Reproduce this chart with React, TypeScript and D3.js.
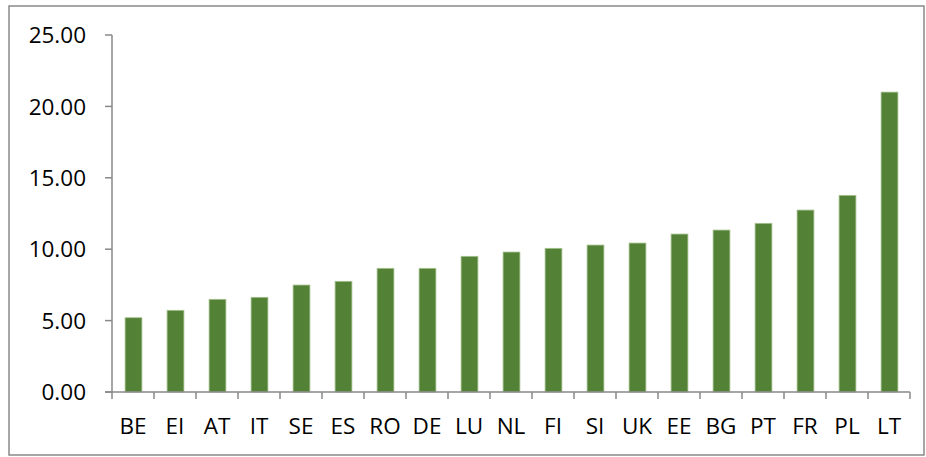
import React from "react";
import * as d3 from "d3";

const categories = ["BE","EI","AT","IT","SE","ES","RO","DE","LU","NL","FI","SI","UK","EE","BG","PT","FR","PL","LT"];
const values = [5.2,5.72,6.49,6.63,7.49,7.75,8.66,8.66,9.5,9.8,10.06,10.29,10.43,11.06,11.34,11.81,12.74,13.77,21.0];
const yTicks = [0,5,10,15,20,25];

export default function App() {
  const W = 926, H = 457;
  const x = d3.scaleBand<string>().domain(categories).range([112, 910]).paddingInner(0.6).paddingOuter(0.3);
  const y = d3.scaleLinear().domain([0, 25]).range([392, 35]);
  const step = x.step();
  const font = "'Open Sans', 'Noto Sans', sans-serif";
  const axisColor = "#898989";
  return (
    <svg width={W} height={H} style={{ position: "absolute", left: 0, top: 0 }}>
      <rect x={9} y={6} width={915} height={449} fill="#fff" stroke={axisColor} strokeWidth={1.5} />
      {categories.map((c, i) => (
        <rect key={c} x={(x(c) as number) + 0.5} y={y(values[i])} width={x.bandwidth()} height={y(0) - y(values[i])}
          fill="#538135" stroke="#a5c08e" strokeWidth={0.8} />
      ))}
      <line x1={112} x2={112} y1={y(25)} y2={y(0)} stroke={axisColor} strokeWidth={1.5} />
      <line x1={105} x2={910} y1={y(0)} y2={y(0)} stroke={axisColor} strokeWidth={1.5} />
      {yTicks.map(t => (
        <g key={t}>
          <line x1={105} x2={112} y1={y(t)} y2={y(t)} stroke={axisColor} strokeWidth={1.5} />
          <text x={86} y={y(t)} dy="0.36em" textAnchor="end" fontFamily={font} fontSize={22.5} fill="#000">{t.toFixed(2)}</text>
        </g>
      ))}
      {d3.range(categories.length + 1).map(i => (
        <line key={i} x1={112 + i * step} x2={112 + i * step} y1={y(0)} y2={y(0) + 7} stroke={axisColor} strokeWidth={1.5} />
      ))}
      {categories.map(c => (
        <text key={c} x={(x(c) as number) + x.bandwidth() / 2} y={434} textAnchor="middle" fontFamily={font} fontSize={22.5} fill="#000">{c}</text>
      ))}
    </svg>
  );
}
